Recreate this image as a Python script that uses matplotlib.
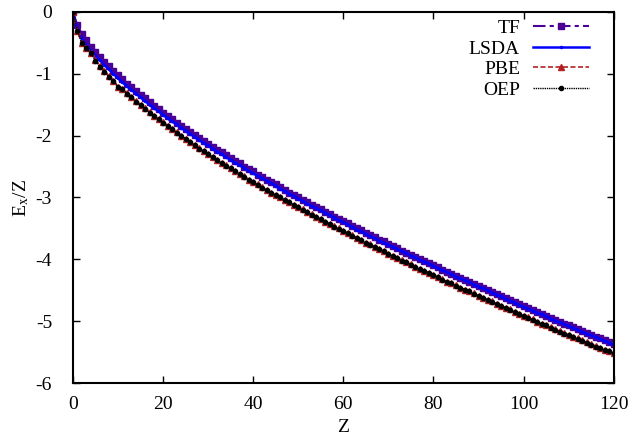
import numpy as np
import matplotlib
matplotlib.use('Agg')
import matplotlib.pyplot as plt

plt.rcParams['font.family'] = ['Liberation Serif', 'DejaVu Serif']
plt.rcParams['mathtext.fontset'] = 'stix'
plt.rcParams['axes.unicode_minus'] = False

# atomic number Z = 0..120
Z = list(range(0, 121))

# |E_x/Z| (values plotted as negatives)
tf_mag = [0, .22, .35, .46, .56, .65, .73, .81, .88, .96, 1.02,
          1.09, 1.16, 1.22, 1.28, 1.34, 1.40, 1.46, 1.52, 1.57, 1.63,
          1.68, 1.73, 1.79, 1.84, 1.89, 1.94, 1.99, 2.04, 2.08, 2.13,
          2.18, 2.23, 2.27, 2.32, 2.36, 2.41, 2.45, 2.50, 2.54, 2.58,
          2.63, 2.67, 2.71, 2.75, 2.79, 2.83, 2.88, 2.92, 2.96, 3.00,
          3.04, 3.08, 3.12, 3.15, 3.19, 3.23, 3.27, 3.31, 3.35, 3.38,
          3.42, 3.46, 3.50, 3.53, 3.57, 3.61, 3.64, 3.68, 3.71, 3.75,
          3.79, 3.82, 3.86, 3.89, 3.93, 3.96, 4.00, 4.03, 4.06, 4.10,
          4.13, 4.17, 4.20, 4.23, 4.27, 4.30, 4.33, 4.36, 4.40, 4.43,
          4.46, 4.49, 4.53, 4.56, 4.59, 4.63, 4.66, 4.69, 4.73, 4.76,
          4.79, 4.82, 4.85, 4.88, 4.91, 4.95, 4.98, 5.01, 5.04, 5.07,
          5.10, 5.13, 5.16, 5.19, 5.22, 5.25, 5.28, 5.31, 5.34, 5.37]

lsda_mag = [0, .27, .44, .54, .63, .71, .78, .86, .93, 1.00, 1.07,
            1.14, 1.20, 1.26, 1.32, 1.38, 1.44, 1.50, 1.55, 1.61, 1.66,
            1.72, 1.77, 1.82, 1.87, 1.92, 1.97, 2.02, 2.07, 2.12, 2.16,
            2.21, 2.26, 2.30, 2.35, 2.39, 2.44, 2.48, 2.52, 2.57, 2.61,
            2.65, 2.69, 2.73, 2.77, 2.81, 2.86, 2.90, 2.94, 2.98, 3.02,
            3.06, 3.10, 3.14, 3.17, 3.21, 3.25, 3.29, 3.33, 3.37, 3.40,
            3.44, 3.48, 3.52, 3.55, 3.59, 3.63, 3.66, 3.70, 3.73, 3.77,
            3.80, 3.83, 3.87, 3.90, 3.94, 3.97, 4.01, 4.04, 4.07, 4.11,
            4.14, 4.18, 4.21, 4.24, 4.28, 4.31, 4.34, 4.37, 4.41, 4.44,
            4.47, 4.50, 4.54, 4.57, 4.60, 4.64, 4.67, 4.70, 4.74, 4.77,
            4.80, 4.83, 4.86, 4.89, 4.92, 4.96, 4.99, 5.02, 5.05, 5.08,
            5.11, 5.14, 5.17, 5.20, 5.23, 5.26, 5.29, 5.32, 5.35, 5.38]

pbe_mag = [0, .31, .51, .59, .67, .78, .88, .96, 1.04, 1.12, 1.21,
           1.25, 1.31, 1.38, 1.44, 1.50, 1.56, 1.62, 1.68, 1.73, 1.78,
           1.84, 1.89, 1.94, 2.00, 2.05, 2.10, 2.15, 2.20, 2.25, 2.30,
           2.35, 2.39, 2.44, 2.48, 2.53, 2.57, 2.62, 2.66, 2.71, 2.75,
           2.79, 2.83, 2.88, 2.92, 2.96, 3.00, 3.04, 3.08, 3.12, 3.16,
           3.19, 3.23, 3.27, 3.31, 3.35, 3.39, 3.43, 3.46, 3.50, 3.54,
           3.58, 3.61, 3.65, 3.69, 3.73, 3.76, 3.80, 3.83, 3.87, 3.91,
           3.94, 3.98, 4.01, 4.05, 4.08, 4.12, 4.15, 4.19, 4.22, 4.25,
           4.29, 4.32, 4.36, 4.39, 4.42, 4.46, 4.49, 4.52, 4.55, 4.59,
           4.62, 4.65, 4.68, 4.72, 4.75, 4.78, 4.81, 4.85, 4.88, 4.91,
           4.94, 4.97, 5.01, 5.04, 5.07, 5.10, 5.13, 5.16, 5.19, 5.22,
           5.25, 5.28, 5.31, 5.34, 5.37, 5.40, 5.43, 5.46, 5.49, 5.52]

oep_mag = [0, .31, .51, .59, .67, .79, .89, .97, 1.05, 1.12, 1.21,
           1.25, 1.32, 1.38, 1.45, 1.51, 1.57, 1.63, 1.68, 1.73, 1.79,
           1.84, 1.90, 1.95, 2.00, 2.05, 2.11, 2.16, 2.21, 2.25, 2.30,
           2.35, 2.40, 2.44, 2.49, 2.53, 2.58, 2.62, 2.67, 2.71, 2.75,
           2.80, 2.84, 2.88, 2.92, 2.96, 3.00, 3.04, 3.08, 3.12, 3.16,
           3.20, 3.24, 3.28, 3.31, 3.35, 3.39, 3.43, 3.47, 3.51, 3.54,
           3.58, 3.62, 3.66, 3.69, 3.73, 3.77, 3.80, 3.84, 3.87, 3.91,
           3.95, 3.98, 4.02, 4.05, 4.09, 4.12, 4.16, 4.19, 4.22, 4.26,
           4.29, 4.33, 4.36, 4.39, 4.43, 4.46, 4.49, 4.52, 4.56, 4.59,
           4.62, 4.65, 4.69, 4.72, 4.75, 4.79, 4.82, 4.85, 4.89, 4.92,
           4.95, 4.98, 5.01, 5.04, 5.07, 5.11, 5.14, 5.17, 5.20, 5.23,
           5.26, 5.29, 5.32, 5.35, 5.38, 5.41, 5.44, 5.46, 5.49, 5.52]

fig = plt.figure(figsize=(6.34, 4.40), dpi=100)
ax = fig.add_axes([0.115, 0.1295, 0.853, 0.8435])

ax.plot(Z, -np.array(tf_mag), color='#4b0096', ls=(0, (6, 2, 2, 2)), lw=1.5,
        marker='s', ms=4.5, label='TF')
ax.plot(Z, -np.array(lsda_mag), color='#0000ff', ls='-', lw=1.8,
        marker='o', ms=1.5, label='LSDA')
ax.plot(Z, -np.array(pbe_mag), color='#b22222', ls=(0, (3, 1.5)), lw=1.2,
        marker='^', ms=4, label='PBE')
ax.plot(Z, -np.array(oep_mag), color='black', ls=(0, (1, 0.6)), lw=1.0,
        marker='o', ms=3, label='OEP')

ax.set_xlim(0, 120)
ax.set_ylim(-6, 0)
ax.set_xticks(range(0, 121, 20))
ax.set_yticks(range(-6, 1))
ax.tick_params(direction='in', top=True, right=True, length=5, width=1,
               labelsize=14)
ax.tick_params(axis='x', pad=9)
ax.tick_params(axis='y', pad=15)
for s in ax.spines.values():
    s.set_linewidth(1.5)

ax.set_xlabel('Z', fontsize=14, labelpad=5)
ax.set_ylabel(r'E$_{\rm x}$/Z', fontsize=14, labelpad=3)

leg = ax.legend(loc='upper right', bbox_to_anchor=(0.973, 1.006), frameon=False,
                markerfirst=False, numpoints=1, fontsize=14, handlelength=2.9,
                handletextpad=0.67, labelspacing=0.15, borderaxespad=0.1)

fig.savefig('out.png', dpi=100)
